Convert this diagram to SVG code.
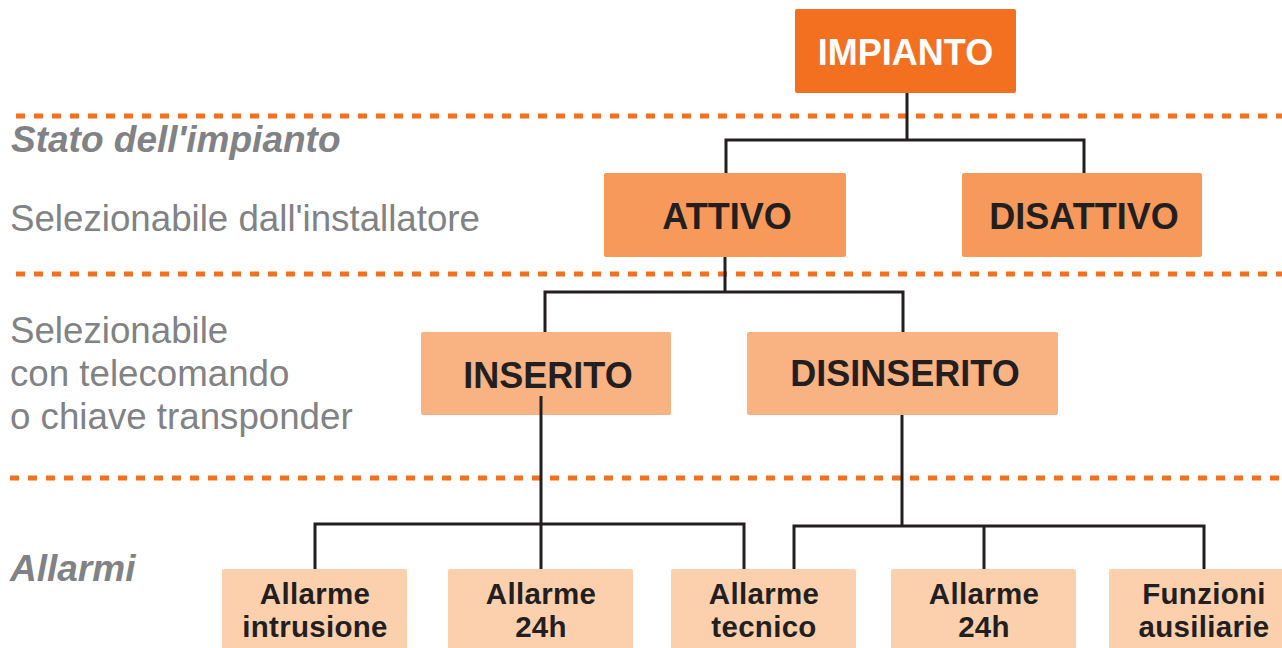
<svg xmlns="http://www.w3.org/2000/svg" width="1282" height="648" viewBox="0 0 1282 648">
<style>
.dash{stroke:#F37021;stroke-width:5;stroke-dasharray:9 9;fill:none}
.conn{stroke:#231F20;stroke-width:3;fill:none}
.lbl{font-family:"Liberation Sans",Arial,sans-serif;font-size:36.7px;fill:#808285}
.lbi{font-weight:bold;font-style:italic;font-size:37px}
.t{font-family:"Liberation Sans",Arial,sans-serif;font-weight:bold;text-anchor:middle;fill:#231F20}
.t1{font-size:36px}
.t2{font-size:29.5px;letter-spacing:0.3px}
.b0{fill:#F37021}
.b1{fill:#F6995A}
.b2{fill:#F9B282}
.b3{fill:#FCD0AD}
</style>
<g id="separators">
<line class="dash" x1="16" y1="116" x2="1282" y2="116"/>
<line class="dash" x1="16" y1="274" x2="1282" y2="274"/>
<line class="dash" x1="10" y1="478" x2="1282" y2="478"/>
</g>
<g id="labels">
<text class="lbl lbi" x="11" y="152">Stato dell'impianto</text>
<text class="lbl" x="10" y="231">Selezionabile dall'installatore</text>
<text class="lbl" x="10" y="343">Selezionabile</text>
<text class="lbl" x="10" y="386">con telecomando</text>
<text class="lbl" x="10" y="429">o chiave transponder</text>
<text class="lbl lbi" x="10" y="581">Allarmi</text>
</g>
<g id="impianto"><rect class="b0" x="795" y="9" width="221" height="84" rx="2"/><text class="t t1" x="905.5" y="65" style="fill:#fff">IMPIANTO</text></g>
<g id="attivo"><rect class="b1" x="604" y="173" width="242" height="84" rx="2"/><text class="t t1" x="727" y="229">ATTIVO</text></g>
<g id="disattivo"><rect class="b1" x="962" y="173" width="240" height="84" rx="2"/><text class="t t1" x="1084" y="229">DISATTIVO</text></g>
<g id="inserito"><rect class="b2" x="421" y="332" width="250" height="83" rx="2"/><text class="t t1" x="548" y="388">INSERITO</text></g>
<g id="disinserito"><rect class="b2" x="747" y="332" width="311" height="83" rx="2"/><text class="t t1" x="905" y="386">DISINSERITO</text></g>
<g id="a-intrusione"><rect class="b3" x="222" y="569" width="185" height="90" rx="2"/><text class="t t2" x="315" y="604">Allarme</text><text class="t t2" x="315" y="637">intrusione</text></g>
<g id="a-24h-1"><rect class="b3" x="448" y="569" width="185" height="90" rx="2"/><text class="t t2" x="541" y="604">Allarme</text><text class="t t2" x="541" y="637">24h</text></g>
<g id="a-tecnico"><rect class="b3" x="671" y="569" width="185" height="90" rx="2"/><text class="t t2" x="764" y="604">Allarme</text><text class="t t2" x="764" y="637">tecnico</text></g>
<g id="a-24h-2"><rect class="b3" x="891" y="569" width="185" height="90" rx="2"/><text class="t t2" x="984" y="604">Allarme</text><text class="t t2" x="984" y="637">24h</text></g>
<g id="funzioni"><rect class="b3" x="1109" y="569" width="185" height="90" rx="2"/><text class="t t2" x="1204" y="604">Funzioni</text><text class="t t2" x="1204" y="637">ausiliarie</text></g>
<g id="connectors">
<path class="conn" d="M907 93V140M726 173V140H1084V173"/>
<path class="conn" d="M725 257V292M545 332V292H903V332"/>
<path class="conn" d="M541 396V569M315 569V524H744V569"/>
<path class="conn" d="M902 415V526M794 569V526H1204V569M984 526V569"/>
</g>
</svg>
